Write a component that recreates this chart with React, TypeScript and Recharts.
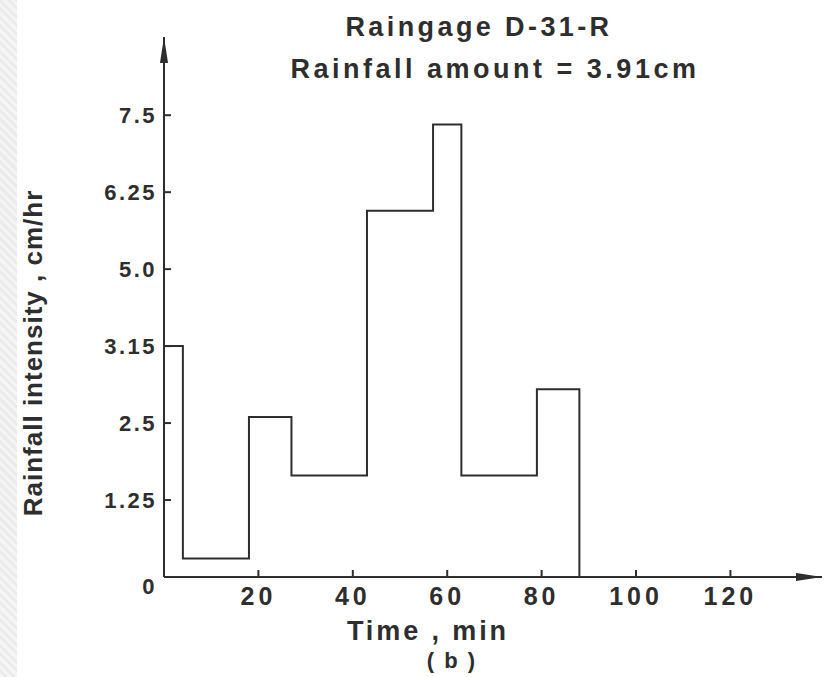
import { Line, LineChart, XAxis, YAxis } from 'recharts';

// time (min) at which each rainfall block starts, last one is the end of the storm
const times = [0, 4, 18, 27, 43, 57, 63, 79, 88];
// rainfall intensity (cm/hr) of each block
const intensities = [3.75, 0.3, 2.6, 1.65, 5.95, 7.35, 1.65, 3.05, 0];

const xTicks = [20, 40, 60, 80, 100, 120];
const yTicks = [0, 1.25, 2.5, 3.75, 5, 6.25, 7.5];
const yTickLabels = ['0', '1.25', '2.5', '3.15', '5.0', '6.25', '7.5'];

const data = times.map((t, i) => ({ t, v: intensities[i] }));

const ink = '#2e2e2e';
const font = '"Liberation Sans", Arial, sans-serif';
const X_MARGIN = 10;
const Y_MARGIN = 7;
const TICK_LEN = 7;

// tick mark drawn inside the plot, label below the axis
const XTick = (props: any) => {
  const { x, y, payload } = props;
  const axisY = Number(y) - X_MARGIN;
  return (
    <g>
      <rect x={Number(x) - 1} y={axisY - TICK_LEN} width={2} height={TICK_LEN} fill={ink} />
      <text x={x} y={y} dy="0.71em" textAnchor="middle" fill={ink} fontSize={25} fontWeight="bold" letterSpacing={4} fontFamily={font}>
        {payload.value}
      </text>
    </g>
  );
};

// tick mark inside the plot, label left of the axis
const YTick = (props: any) => {
  const { x, y, payload } = props;
  const axisX = Number(x) + Y_MARGIN;
  const label = yTickLabels[yTicks.indexOf(payload.value)] ?? String(payload.value);
  const isZero = payload.value === 0;
  return (
    <g>
      {!isZero && <rect x={axisX} y={Number(y) - 1} width={TICK_LEN} height={2} fill={ink} />}
      <text
        x={x}
        y={y}
        dy={isZero ? 17 : 8}
        textAnchor="end"
        fill={ink}
        fontSize={22}
        fontWeight="bold"
        letterSpacing={2.5}
        fontFamily={font}
      >
        {label}
      </text>
    </g>
  );
};

export default function App() {
  return (
    <div style={{ position: 'absolute', left: 0, top: 0, width: 831, height: 677, background: '#fff' }}>
      <div
        style={{
          position: 'absolute',
          left: 0,
          top: 0,
          width: 17,
          height: 677,
          background: 'repeating-linear-gradient(45deg, #f5f5f5 0 3px, #ebebeb 3px 6px)',
        }}
      />
      <LineChart
        width={831}
        height={677}
        data={data}
        margin={{ top: 37, right: 9, bottom: 70, left: 100 }}
        style={{ fontFamily: font }}
      >
        <defs>
          <marker
            id="arrow"
            viewBox="0 0 10 10"
            refX="10"
            refY="5"
            markerWidth="26"
            markerHeight="9"
            markerUnits="userSpaceOnUse"
            preserveAspectRatio="none"
            orient="auto-start-reverse"
          >
            <path d="M0,0.5 L10,5 L0,9.5 z" fill={ink} />
          </marker>
        </defs>
        <XAxis
          dataKey="t"
          type="number"
          domain={[0, 139.4]}
          ticks={xTicks}
          height={30}
          tickSize={0}
          tickMargin={X_MARGIN}
          tickLine={false}
          axisLine={{ stroke: ink, strokeWidth: 2, markerEnd: 'url(#arrow)' }}
          tick={XTick}
        />
        <YAxis
          type="number"
          domain={[0, 8.77]}
          ticks={yTicks}
          width={64}
          tickSize={0}
          tickMargin={Y_MARGIN}
          tickLine={false}
          interval={0}
          axisLine={{ stroke: ink, strokeWidth: 2, markerStart: 'url(#arrow)' }}
          tick={YTick}
        />
        <Line
          type="stepAfter"
          dataKey="v"
          stroke={ink}
          strokeWidth={2}
          dot={false}
          activeDot={false}
          isAnimationActive={false}
        />
        <text x={479} y={36} textAnchor="middle" fill={ink} fontSize={27} fontWeight="bold" letterSpacing={3.4} fontFamily={font}>
          Raingage D-31-R
        </text>
        <text x={495} y={78} textAnchor="middle" fill={ink} fontSize={27} fontWeight="bold" letterSpacing={3.5} fontFamily={font}>
          Rainfall amount = 3.91cm
        </text>
        <text x={428} y={640} textAnchor="middle" fill={ink} fontSize={27} fontWeight="bold" letterSpacing={2.9} fontFamily={font}>
          Time , min
        </text>
        <text x={452} y={668} textAnchor="middle" fill={ink} fontSize={22} fontWeight="bold" letterSpacing={2} fontFamily={font}>
          ( b )
        </text>
        <text
          x={42}
          y={353}
          transform="rotate(-90 42 353)"
          textAnchor="middle"
          fill={ink}
          fontSize={26}
          fontWeight="bold"
          letterSpacing={1}
          fontFamily={font}
        >
          Rainfall intensity , cm/hr
        </text>
      </LineChart>
    </div>
  );
}
